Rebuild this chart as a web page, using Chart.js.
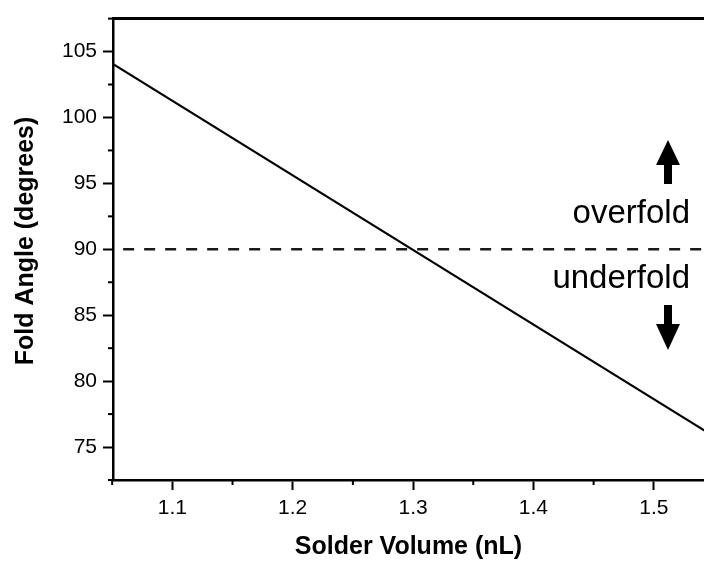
<!DOCTYPE html>
<html>
<head>
<meta charset="utf-8">
<script src="https://cdn.jsdelivr.net/npm/chart.js@4.4.1/dist/chart.umd.min.js"></script>
<style>
  html, body { margin: 0; padding: 0; background: #fff; }
  #wrap { width: 704px; height: 561px; }
</style>
</head>
<body>
<div id="wrap"><canvas id="chart" width="704" height="561"></canvas></div>
<script>
// Data
const solderVolume = [1.05, 1.55];      // nL
const foldAngle = [104.1, 75.8];        // degrees
const targetAngle = 90;

// Axis ticks
const xTicks = [1.1, 1.2, 1.3, 1.4, 1.5];
const xMinor = [1.05, 1.15, 1.25, 1.35, 1.45];
const yTicks = [75, 80, 85, 90, 95, 100, 105];
const yMinor = [72.5, 77.5, 82.5, 87.5, 92.5, 97.5, 102.5, 107.5];

const FONT = "'Liberation Sans', Arial, sans-serif";

// draws minor ticks, top frame, axis titles, arrows and labels
const extras = {
    id: 'extras',
    afterDraw(chart) {
        const ctx = chart.ctx;
        const area = chart.chartArea;
        const xs = chart.scales.x, ys = chart.scales.y;
        ctx.save();
        ctx.strokeStyle = '#000';
        ctx.fillStyle = '#000';

        // minor ticks
        ctx.lineWidth = 2;
        yMinor.forEach(v => {
            const p = ys.getPixelForValue(v);
            ctx.beginPath(); ctx.moveTo(area.left - 5, p); ctx.lineTo(area.left, p); ctx.stroke();
        });
        xMinor.forEach(v => {
            const p = xs.getPixelForValue(v);
            ctx.beginPath(); ctx.moveTo(p, area.bottom); ctx.lineTo(p, area.bottom + 5); ctx.stroke();
        });

        // top frame
        ctx.lineWidth = 3;
        ctx.beginPath(); ctx.moveTo(area.left - 1, area.top); ctx.lineTo(area.right, area.top); ctx.stroke();

        // axis titles
        ctx.font = 'bold 25px ' + FONT;
        ctx.textAlign = 'center';
        ctx.textBaseline = 'middle';
        ctx.fillText('Solder Volume (nL)', (area.left + area.right) / 2, 547);
        ctx.save();
        ctx.translate(26, 241);
        ctx.rotate(-Math.PI / 2);
        ctx.fillText('Fold Angle (degrees)', 0, 0);
        ctx.restore();

        // over / under fold labels
        ctx.font = '33px ' + FONT;
        ctx.textAlign = 'right';
        ctx.textBaseline = 'alphabetic';
        ctx.fillText('overfold', 690, 223);
        ctx.fillText('underfold', 690, 288);

        // arrows
        const ax = 668;
        ctx.fillRect(ax - 4, 163, 8, 21);
        ctx.beginPath(); ctx.moveTo(ax, 140); ctx.lineTo(ax + 12, 165); ctx.lineTo(ax - 12, 165); ctx.closePath(); ctx.fill();
        ctx.fillRect(ax - 4, 305, 8, 21);
        ctx.beginPath(); ctx.moveTo(ax, 350); ctx.lineTo(ax + 12, 324); ctx.lineTo(ax - 12, 324); ctx.closePath(); ctx.fill();

        ctx.restore();
    }
};

new Chart(document.getElementById('chart'), {
    type: 'line',
    data: {
        datasets: [
            {
                label: 'Fold angle',
                data: solderVolume.map((v, i) => ({ x: v, y: foldAngle[i] })),
                borderColor: '#000',
                borderWidth: 2.2,
                pointRadius: 0,
                tension: 0
            },
            {
                label: '90 degrees',
                data: [{ x: solderVolume[0], y: targetAngle }, { x: solderVolume[1], y: targetAngle }],
                borderColor: '#1a1a1a',
                borderWidth: 2.5,
                borderDash: [11, 10],
                borderDashOffset: 10,
                pointRadius: 0
            }
        ]
    },
    options: {
        responsive: false,
        animation: false,
        layout: { padding: { top: 17, right: 0, left: 0, bottom: 0 } },
        plugins: {
            legend: { display: false },
            tooltip: { enabled: false }
        },
        scales: {
            x: {
                type: 'linear',
                min: 1.0507,
                max: 1.5417,
                afterBuildTicks: s => { s.ticks = xTicks.map(v => ({ value: v })); },
                afterFit: s => { s.height = 81; },
                grid: { drawOnChartArea: false, tickLength: 10, tickWidth: 2, tickColor: '#000' },
                border: { color: '#000', width: 2.5 },
                ticks: {
                    color: '#000',
                    font: { family: FONT, size: 21 },
                    padding: 6,
                    maxRotation: 0,
                    callback: v => v.toFixed(1)
                }
            },
            y: {
                min: 72.5,
                max: 107.5,
                afterBuildTicks: s => { s.ticks = yTicks.map(v => ({ value: v })); },
                afterFit: s => { s.width = 113; },
                grid: { drawOnChartArea: false, tickLength: 10, tickWidth: 2, tickColor: '#000' },
                border: { color: '#000', width: 2.5 },
                ticks: {
                    color: '#000',
                    font: { family: FONT, size: 21 },
                    padding: 6
                }
            }
        }
    },
    plugins: [extras]
});
</script>
</body>
</html>
